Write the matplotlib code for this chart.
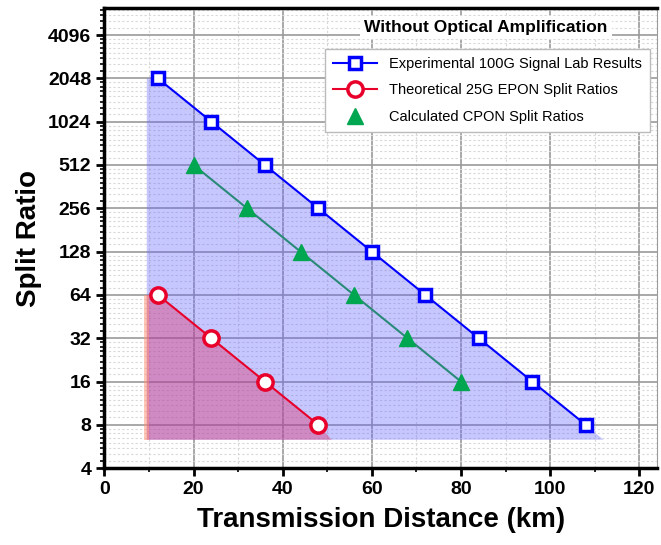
import numpy as np
import matplotlib
matplotlib.use("Agg")
import matplotlib.pyplot as plt
from matplotlib.ticker import FixedLocator, MultipleLocator, LogLocator, NullFormatter

plt.rcParams['font.family'] = ['Liberation Sans', 'DejaVu Sans']

# data
exp_dist = [12, 24, 36, 48, 60, 72, 84, 96, 108]
exp_split = [2048, 1024, 512, 256, 128, 64, 32, 16, 8]
epon_dist = [12, 24, 36, 48]
epon_split = [64, 32, 16, 8]
cpon_dist = [20, 32, 44, 56, 68, 80]
cpon_split = [512, 256, 128, 64, 32, 16]
y_ticks = [4, 8, 16, 32, 64, 128, 256, 512, 1024, 2048, 4096]
x_ticks = [0, 20, 40, 60, 80, 100, 120]

# shaded regions (left edge / floor of the shaded area)
fill_left = 9.5
fill_floor = 6.3

blue = '#0000ff'
red = '#e8002a'
green = '#00a650'
teal = '#2a8a78'

fig = plt.figure(figsize=(6.61, 5.45), dpi=100)
ax = fig.add_axes([0.158, 0.141, 0.836, 0.844])

# blue fill
bx = [fill_left] + exp_dist + [exp_dist[-1] + 4, fill_left]
by = [exp_split[0]] + exp_split + [fill_floor, fill_floor]
ax.fill(bx, by, color='#6060ff', alpha=0.35, lw=0, zorder=1)

# red fill
rx = [fill_left] + epon_dist + [epon_dist[-1] + 3, fill_left]
ry = [epon_split[0]] + epon_split + [fill_floor, fill_floor]
ax.fill(rx, ry, color='#e0306a', alpha=0.40, lw=0, zorder=2)
ax.fill([fill_left - 0.6, fill_left + 0.6, fill_left + 0.6, fill_left - 0.6],
        [fill_floor, fill_floor, epon_split[0], epon_split[0]],
        color='#ff9070', alpha=0.5, lw=0, zorder=2)

ax.plot(exp_dist, exp_split, '-', color=blue, lw=1.5, marker='s', ms=9,
        mfc='white', mec=blue, mew=2.5, zorder=5,
        label='Experimental 100G Signal Lab Results')
ax.plot(epon_dist, epon_split, '-', color=red, lw=1.5, marker='o', ms=11,
        mfc='white', mec=red, mew=2.5, zorder=5,
        label='Theoretical 25G EPON Split Ratios')
ax.plot(cpon_dist, cpon_split, '-', color=teal, lw=1.5, zorder=4)
ax.plot(cpon_dist, cpon_split, '^', color=green, ms=12, mec=green, zorder=5,
        label='Calculated CPON Split Ratios')

ax.set_yscale('log', base=2)
ax.set_ylim(4, 6300)
ax.set_xlim(0, 124)
ax.yaxis.set_major_locator(FixedLocator(y_ticks))
ax.set_yticklabels([str(v) for v in y_ticks])
ax.yaxis.set_minor_locator(LogLocator(base=2, subs=np.arange(1.125, 2, 0.125), numticks=50))
ax.yaxis.set_minor_formatter(NullFormatter())
ax.set_xticks(x_ticks)
ax.xaxis.set_minor_locator(MultipleLocator(10))

ax.grid(which='major', color='#9a9a9a', lw=1.2, zorder=0)
ax.grid(which='minor', color='#d8d8d8', lw=0.8, ls=(0, (2, 2)), zorder=0)
ax.set_axisbelow(True)

for s in ['left', 'bottom', 'top']:
    ax.spines[s].set_linewidth(2.5)
ax.spines['right'].set_color('#9a9a9a')
ax.tick_params(which='major', direction='out', length=6, width=2, labelsize=14)
ax.tick_params(which='minor', direction='out', length=3, width=1.2)
for lbl in ax.get_xticklabels() + ax.get_yticklabels():
    lbl.set_fontweight('bold')

ax.set_xlabel('Transmission Distance (km)', fontsize=20, fontweight='bold', labelpad=6)
ax.set_ylabel('Split Ratio', fontsize=20, fontweight='bold', labelpad=4)

leg = ax.legend(loc='upper right', bbox_to_anchor=(1.0, 0.927), fontsize=10.5,
                frameon=True, fancybox=False, edgecolor='#bbbbbb', framealpha=1,
                handlelength=3.0, borderpad=0.55, labelspacing=0.85)
leg.set_zorder(10)
ax.text(0.69, 0.958, 'Without Optical Amplification', transform=ax.transAxes,
        ha='center', va='center', fontsize=12.5, fontweight='bold', zorder=11,
        bbox=dict(facecolor='white', edgecolor='none', pad=3))

fig.savefig('out.png', dpi=100)
